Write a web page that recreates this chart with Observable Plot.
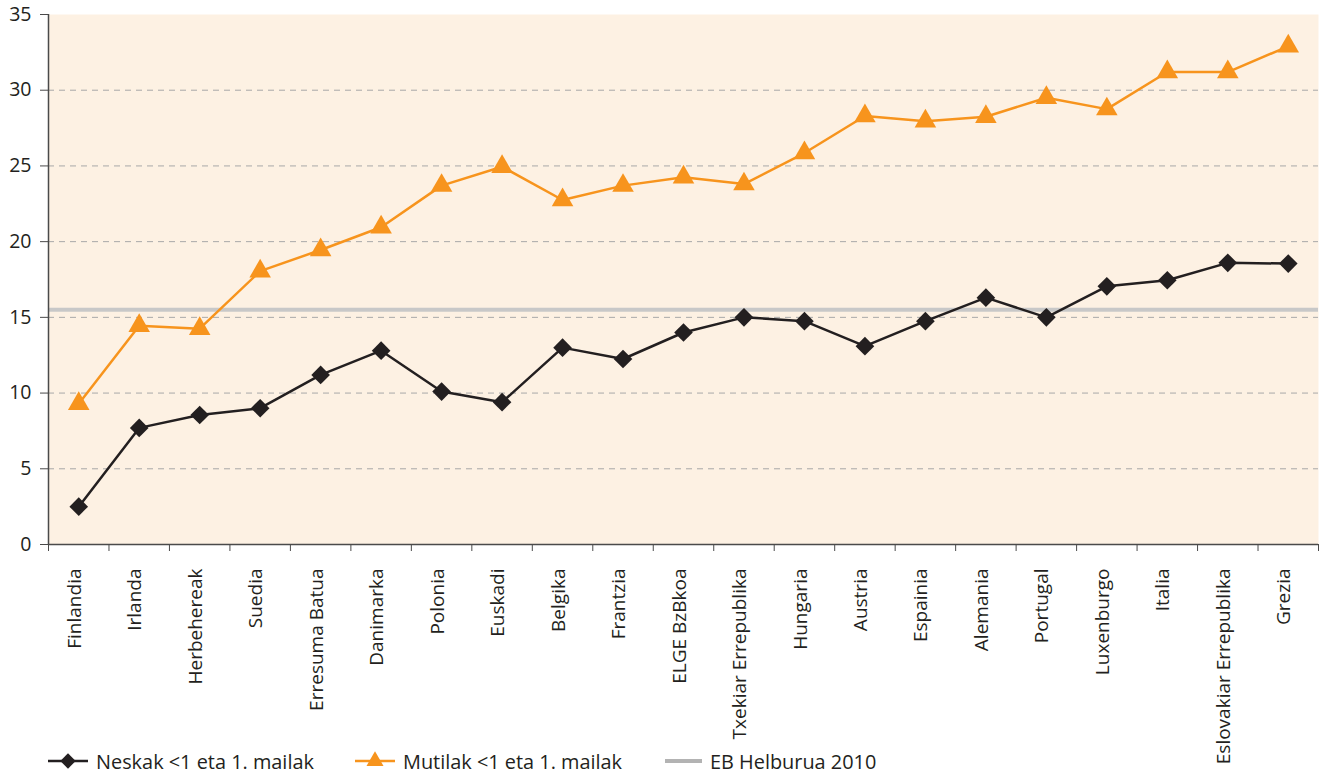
<!DOCTYPE html>
<html>
<head>
<meta charset="utf-8">
<script src="https://cdn.jsdelivr.net/npm/d3@7"></script>
<script src="https://cdn.jsdelivr.net/npm/@observablehq/plot@0.6"></script>
<style>
  body { margin: 0; background: #fff; font-family: "Open Sans", sans-serif; color: #231f20; overflow: hidden; }
  #chart svg { overflow: visible; display: block; }
  #legend { position: relative; height: 34px; font-size: 19.9px; }
  .item { position: absolute; top: 2px; display: flex; align-items: center; height: 30px; }
  .item svg { display: block; margin-right: 8px; }
</style>
</head>
<body>
<div id="chart"></div>
<div id="legend"></div>
<script>
const categories = ["Finlandia","Irlanda","Herbehereak","Suedia","Erresuma Batua","Danimarka","Polonia","Euskadi","Belgika","Frantzia","ELGE BzBkoa","Txekiar Errepublika","Hungaria","Austria","Espainia","Alemania","Portugal","Luxenburgo","Italia","Eslovakiar Errepublika","Grezia"];
const neskak = [2.5, 7.7, 8.55, 9.0, 11.2, 12.8, 10.1, 9.4, 13.0, 12.25, 14.0, 15.0, 14.75, 13.1, 14.75, 16.3, 15.0, 17.05, 17.45, 18.6, 18.55];
const mutilak = [9.3, 14.45, 14.25, 18.05, 19.45, 20.95, 23.7, 24.95, 22.75, 23.7, 24.25, 23.8, 25.85, 28.3, 27.95, 28.25, 29.5, 28.75, 31.2, 31.2, 32.9];
const helburua = 15.5;
const yTicks = [0, 5, 10, 15, 20, 25, 30, 35];
const gridTicks = [5, 10, 15, 20, 25, 30];
const seriesNames = ["Neskak <1 eta 1. mailak", "Mutilak <1 eta 1. mailak", "EB Helburua 2010"];

const colNeskak = "#231f20";
const colMutilak = "#f7941d";
const colHelburua = "#c8c8c8";

const W = 1324, H = 744, mL = 48, mR = 6, mT = 14, mB = 200;
const step = (W - mL - mR) / categories.length;

const dataN = categories.map((c, i) => ({cat: c, v: neskak[i]}));
const dataM = categories.map((c, i) => ({cat: c, v: mutilak[i]}));

const chart = Plot.plot({
  width: W, height: H,
  marginLeft: mL, marginRight: mR, marginTop: mT, marginBottom: mB,
  style: {fontFamily: "'Open Sans', sans-serif", fontSize: "19px", color: "#231f20", overflow: "visible"},
  x: {type: "point", domain: categories, padding: 0.5, round: false, axis: null, label: null},
  y: {domain: [0, 35], axis: null, label: null},
  marks: [
    Plot.frame({fill: "#fdf1e3", stroke: null}),
    Plot.gridY(gridTicks, {stroke: "#a8a8a8", strokeOpacity: 1, strokeWidth: 1, strokeDasharray: "6,5"}),
    Plot.ruleY([helburua], {stroke: colHelburua, strokeWidth: 4}),
    Plot.axisY(yTicks, {tickSize: 8, tickPadding: 9, fontSize: 19.5, stroke: "#4a4a4a", label: null}),
    Plot.ruleX([categories[0]], {dx: -step / 2, y1: 0, y2: 35, stroke: "#4a4a4a", strokeWidth: 1.5}),
    Plot.ruleY([0], {stroke: "#4a4a4a", strokeWidth: 1.5}),
    Plot.axisX(categories, {tickSize: 7, tickFormat: () => "", dx: -step / 2, stroke: "#4a4a4a", label: null}),
    Plot.axisX([categories[categories.length - 1]], {tickSize: 7, tickFormat: () => "", dx: step / 2, stroke: "#4a4a4a", label: null}),
    Plot.axisX(categories, {tickSize: 0, tickPadding: 24, tickRotate: -90, fontSize: 19, dx: -4, label: null}),
    Plot.line(dataM, {x: "cat", y: "v", stroke: colMutilak, strokeWidth: 2.5}),
    Plot.dot(dataM, {x: "cat", y: "v", symbol: "triangle", r: 8, fill: colMutilak, stroke: null}),
    Plot.line(dataN, {x: "cat", y: "v", stroke: colNeskak, strokeWidth: 2.5}),
    Plot.dot(dataN, {x: "cat", y: "v", symbol: "diamond2", r: 8.4, fill: colNeskak, stroke: null})
  ]
});
document.getElementById("chart").appendChild(chart);

// legend
const legend = d3.select("#legend");
const items = [
  {name: seriesNames[0], left: 48, color: colNeskak, marker: "diamond", w: 40},
  {name: seriesNames[1], left: 355, color: colMutilak, marker: "triangle", w: 40},
  {name: seriesNames[2], left: 665, color: "#b3b3b3", marker: null, w: 37}
];
for (const it of items) {
  const div = legend.append("div").attr("class", "item").style("left", it.left + "px");
  const s = div.append("svg").attr("width", it.w).attr("height", 22);
  s.append("line").attr("x1", 0).attr("x2", it.w).attr("y1", 11).attr("y2", 11)
    .attr("stroke", it.color).attr("stroke-width", it.marker ? 2.5 : 4);
  if (it.marker === "diamond") {
    s.append("path").attr("transform", `translate(${it.w / 2},11)`).attr("d", d3.symbol(d3.symbolDiamond2, 150)()).attr("fill", it.color);
  } else if (it.marker === "triangle") {
    s.append("path").attr("transform", `translate(${it.w / 2},11)`).attr("d", d3.symbol(d3.symbolTriangle, 125)()).attr("fill", it.color);
  }
  div.append("span").text(it.name);
}
</script>
</body>
</html>
